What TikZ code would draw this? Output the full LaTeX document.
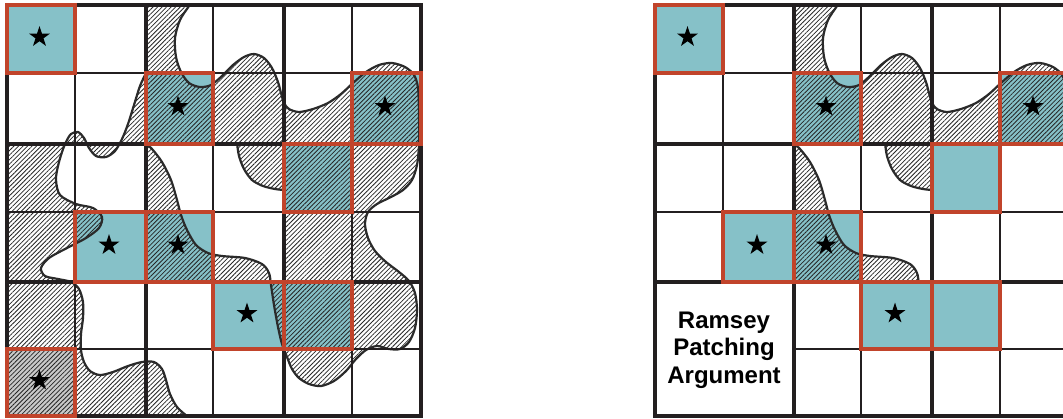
\documentclass[tikz,border=0pt]{standalone}
\usepackage{fontspec}
\newfontfamily\lsans{Liberation Sans}
\usetikzlibrary{patterns.meta,shapes.geometric}
\definecolor{teal1}{HTML}{86C1C8}
\definecolor{redb}{HTML}{C1442B}
\definecolor{gridc}{HTML}{231F20}
\definecolor{grayc}{HTML}{C9C9C9}
\definecolor{hatchc}{HTML}{262626}
\definecolor{blobc}{HTML}{2B2B2B}
\def\Ppath{plot[smooth] coordinates {(146,73) (140,86) (134,105) (128,124) (122,139) (115,151) (106,157) (96,156) (89,148) (84,138) (78,132) (71,134) (66,142) (62,152) (58,166) (56,180) (60,195) (76,204) (93,208) (102,217) (99,228) (86,238) (67,248) (49,258) (41,268) (45,276) (58,279) (71,282) (79,289) (83,302) (83,318) (81,334) (81,350) (84,362) (90,371) (100,375) (113,372) (128,366) (142,362) (154,362) (162,369) (166,380) (170,394) (177,407) (187,416) (196,422)}}
\def\Pclose{-- (600,430) -- (600,73) -- cycle}
\def\Qpath{plot[smooth] coordinates {(146,144) (152,149) (162,162) (171,180) (177,200) (181,215) (187,230) (196,245) (208,253) (222,256) (245,258) (262,264) (269,273) (271,285) (274,305) (278,327) (282,344) (287,357) (292,369) (299,378) (309,384) (321,386) (334,381) (346,371) (356,359) (366,350) (377,346) (389,349) (400,349) (409,342) (415,328) (417,310) (415,293) (409,281) (399,272) (386,262) (375,251) (368,238) (365,224) (368,212) (377,204) (391,197) (403,190) (412,180) (417,165) (419,145) (419,115) (418,88) (414,75) (405,67) (392,63) (379,65) (366,72) (353,83) (341,94) (328,103) (313,109) (299,112) (289,109) (284,103) (281,93) (278,82) (272,68) (264,58) (254,54) (244,57) (233,65) (222,76) (211,85) (200,87) (189,83) (181,72) (176,57) (175,38) (180,20) (189,6) (194,-2)}}
\def\Qclose{-- (194,-50) -- (-100,-50) -- (-100,144) -- cycle}
\def\Rpath{plot[smooth] coordinates {(237,143) (239,156) (244,169) (252,180) (263,186) (275,189) (284,190)}}
\begin{document}
\begin{tikzpicture}[x=1pt,y=-1pt,
  gridthin/.style={draw=gridc, line width=1.8pt},
  gridthick/.style={draw=gridc, line width=4.2pt},
  redsq/.style={draw=redb, line width=4pt},
  tealfill/.style={fill=teal1},
  hatchfill/.style={pattern={Lines[angle=45,distance=3.2pt,line width=0.8pt]}, pattern color=hatchc},
  blobline/.style={draw=blobc, line width=2.2pt, line join=round, line cap=round},
  starmark/.style={star, star points=5, star point ratio=2.6, fill=black, inner sep=0pt, minimum size=22pt}]
\useasboundingbox (0,0) rectangle (1063,418);
\clip (0,0) rectangle (1063,418);
\fill[white] (0,0) rectangle (1063,418);

% ================= LEFT GRID =================
\begin{scope}
  \fill[tealfill] (7,5) rectangle (75,73);
  \fill[tealfill] (146,73) rectangle (213,144);
  \fill[tealfill] (352,73) rectangle (421,144);
  \fill[tealfill] (284,144) rectangle (352,212);
  \fill[tealfill] (75,212) rectangle (146,282);
  \fill[tealfill] (146,212) rectangle (213,282);
  \fill[tealfill] (213,282) rectangle (284,349);
  \fill[tealfill] (284,282) rectangle (352,349);
  \fill[grayc] (7,349) rectangle (75,416);
  % hatching, block by block
  \begin{scope}\clip (7,5) rectangle (146,144);
    \fill[hatchfill, even odd rule] \Ppath \Pclose;
  \end{scope}
  \begin{scope}\clip (7,144) rectangle (146,282);
    \fill[hatchfill, even odd rule] (7,144) rectangle (146,282) \Ppath \Pclose;
  \end{scope}
  \begin{scope}\clip (7,282) rectangle (146,416);
    \fill[hatchfill, even odd rule] (7,282) rectangle (146,416) \Ppath \Pclose;
  \end{scope}
  \begin{scope}\clip (146,282) rectangle (284,416);
    \fill[hatchfill, even odd rule] (146,282) rectangle (284,416) \Ppath \Pclose;
    \fill[hatchfill, even odd rule] \Qpath \Qclose;
  \end{scope}
  \begin{scope}\clip (146,5) rectangle (284,144);
    \fill[hatchfill, even odd rule] \Qpath \Qclose;
  \end{scope}
  \begin{scope}\clip (284,5) rectangle (421,416);
    \fill[hatchfill, even odd rule] \Qpath \Qclose;
  \end{scope}
  \begin{scope}\clip (146,144) rectangle (284,282);
    \fill[hatchfill, even odd rule] (146,144) rectangle (284,282) \Qpath \Qclose;
    \fill[hatchfill] \Rpath -- (284,144) -- cycle;
  \end{scope}
  % blob outlines
  \begin{scope}\clip (7,5) rectangle (421,416);
    \draw[blobline] \Ppath;
    \draw[blobline] \Qpath;
    \draw[blobline] \Rpath;
  \end{scope}
  % grid
  \foreach \gx in {75,213,352} \draw[gridthin] (\gx,5) -- (\gx,416);
  \foreach \gy in {73,212,349} \draw[gridthin] (7,\gy) -- (421,\gy);
  \foreach \gx in {146,284} \draw[gridthick] (\gx,5) -- (\gx,416);
  \foreach \gy in {144,282} \draw[gridthick] (7,\gy) -- (421,\gy);
  \draw[gridthick] (7,5) rectangle (421,416);
  % red frames
  \draw[redsq] (7,5) rectangle (75,73);
  \draw[redsq] (146,73) rectangle (213,144);
  \draw[redsq] (352,73) rectangle (421,144);
  \draw[redsq] (284,144) rectangle (352,212);
  \draw[redsq] (75,212) rectangle (146,282);
  \draw[redsq] (146,212) rectangle (213,282);
  \draw[redsq] (213,282) rectangle (284,349);
  \draw[redsq] (284,282) rectangle (352,349);
  \draw[redsq] (7,349) rectangle (75,416);
  % stars
  \node[starmark] (sl1) at (39.5,37) {};
  \node[starmark] (sl2) at (178,106.5) {};
  \node[starmark] (sl3) at (385,106.5) {};
  \node[starmark] (sl4) at (109,245) {};
  \node[starmark] (sl5) at (178,245) {};
  \node[starmark] (sl6) at (247,313.5) {};
  \node[starmark] (sl7) at (39.5,380.5) {};
\end{scope}

% ================= RIGHT GRID =================
\begin{scope}[xshift=648pt]
  \fill[tealfill] (7,5) rectangle (75,73);
  \fill[tealfill] (146,73) rectangle (213,144);
  \fill[tealfill] (352,73) rectangle (421,144);
  \fill[tealfill] (284,144) rectangle (352,212);
  \fill[tealfill] (75,212) rectangle (146,282);
  \fill[tealfill] (146,212) rectangle (213,282);
  \fill[tealfill] (213,282) rectangle (284,349);
  \fill[tealfill] (284,282) rectangle (352,349);
  \begin{scope}\clip (146,5) rectangle (421,144);
    \fill[hatchfill, even odd rule] \Qpath \Qclose;
  \end{scope}
  \begin{scope}\clip (146,144) rectangle (284,282);
    \fill[hatchfill, even odd rule] (146,144) rectangle (284,282) \Qpath \Qclose;
    \fill[hatchfill] \Rpath -- (284,144) -- cycle;
  \end{scope}
  \begin{scope}\clip (146,5) rectangle (421,144) (146,144) rectangle (284,282);
    \draw[blobline] \Qpath;
    \draw[blobline] \Rpath;
  \end{scope}
  \foreach \gx in {75,213,352} \draw[gridthin] (\gx,5) -- (\gx,416);
  \foreach \gy in {73,212,349} \draw[gridthin] (7,\gy) -- (421,\gy);
  \foreach \gx in {146,284} \draw[gridthick] (\gx,5) -- (\gx,416);
  \foreach \gy in {144,282} \draw[gridthick] (7,\gy) -- (421,\gy);
  \draw[gridthick] (7,5) rectangle (421,416);
  \fill[white] (9.2,284.2) rectangle (143.8,413.8);
  \draw[redsq] (7,5) rectangle (75,73);
  \draw[redsq] (146,73) rectangle (213,144);
  \draw[redsq] (352,73) rectangle (421,144);
  \draw[redsq] (284,144) rectangle (352,212);
  \draw[redsq] (75,212) rectangle (146,282);
  \draw[redsq] (146,212) rectangle (213,282);
  \draw[redsq] (213,282) rectangle (284,349);
  \draw[redsq] (284,282) rectangle (352,349);
  \node[starmark] (sr1) at (39.5,37) {};
  \node[starmark] (sr2) at (178,106.5) {};
  \node[starmark] (sr3) at (385,106.5) {};
  \node[starmark] (sr4) at (109,245) {};
  \node[starmark] (sr5) at (178,245) {};
  \node[starmark] (sr6) at (247,313.5) {};
  \node[font=\lsans\bfseries\fontsize{24}{27.5}\selectfont, align=center, text=black, inner sep=0pt] (ramsey) at (76,350) {Ramsey\\Patching\\Argument};
\end{scope}
\end{tikzpicture}
\end{document}
